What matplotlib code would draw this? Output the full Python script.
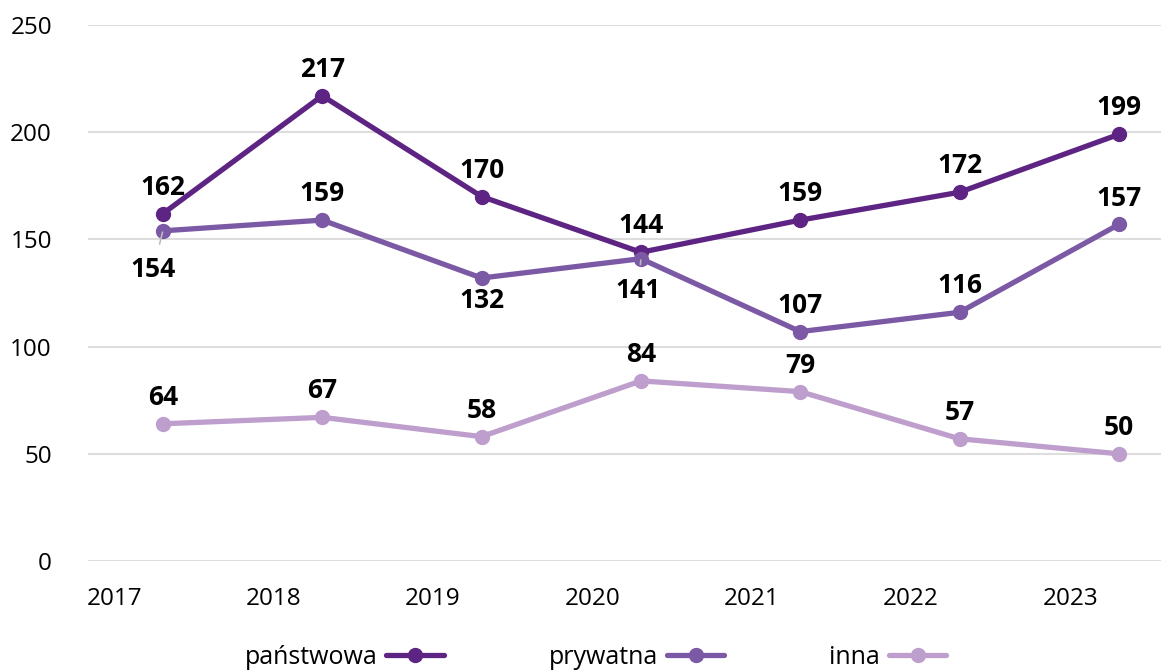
import matplotlib
matplotlib.use("Agg")
import matplotlib.pyplot as plt

years = [2017, 2018, 2019, 2020, 2021, 2022, 2023]
panstwowa = [162, 217, 170, 144, 159, 172, 199]
prywatna = [154, 159, 132, 141, 107, 116, 157]
inna = [64, 67, 58, 84, 79, 57, 50]

series_names = ["państwowa", "prywatna", "inna"]
colors = ["#5E2483", "#7B59A5", "#BE9ECC"]

# label placement per point: (dx, dy) in points, leader line flag
above = (0, 19, False)
below = (0, -16, False)
prywatna_pos = [(-7, -28, True), above, below, (-2, -23, True), above, above, above]

plt.rcParams["font.family"] = ["Open Sans", "DejaVu Sans"]

fig = plt.figure(figsize=(11.61, 6.72), dpi=100)
ax = fig.add_axes([88 / 1161, 111 / 672, 1 - 88 / 1161, (561 - 25) / 672])

# points sit mid-year
xs = [y + 0.5 for y in years]

data = [panstwowa, prywatna, inna]
positions = [[above] * 7, prywatna_pos, [above] * 7]

for name, vals, col, pos in zip(series_names, data, colors, positions):
    ax.plot(xs, vals, color=col, lw=3.8, marker="o", ms=10,
            solid_capstyle="round", label=name, zorder=3)
    for x, v, (dx, dy, lead) in zip(xs, vals, pos):
        kw = dict(xytext=(dx, dy), textcoords="offset points",
                  ha="center", va="center", fontsize=19, fontweight="bold",
                  color="black", zorder=5)
        if lead:
            kw["arrowprops"] = dict(arrowstyle="-", color="#BBBBBB", lw=1.2,
                                    shrinkA=7, shrinkB=1)
        ax.annotate(str(v), (x, v), **kw)

ax.set_ylim(0, 250)
ax.set_yticks([0, 50, 100, 150, 200, 250])
ax.set_xlim(2017.03, 2023.764)
ax.grid(axis="y", color="#DDDDDD", lw=1.5)
ax.set_axisbelow(True)
for s in ax.spines.values():
    s.set_visible(False)
ax.tick_params(axis="both", length=0, labelsize=17.5, colors="black")
ax.tick_params(axis="y", pad=26)
ax.tick_params(axis="x", pad=19)
ax.set_xticks([y + 0.195 for y in years])
ax.set_xticklabels([str(y) for y in years], ha="center")

leg = ax.legend(loc="upper center", bbox_to_anchor=(0.473, -0.128), ncol=3,
                frameon=False, markerfirst=False, fontsize=18,
                handlelength=2.3, columnspacing=4.2, handletextpad=0.35,
                borderaxespad=0.2)

fig.savefig("out.png", dpi=100)
